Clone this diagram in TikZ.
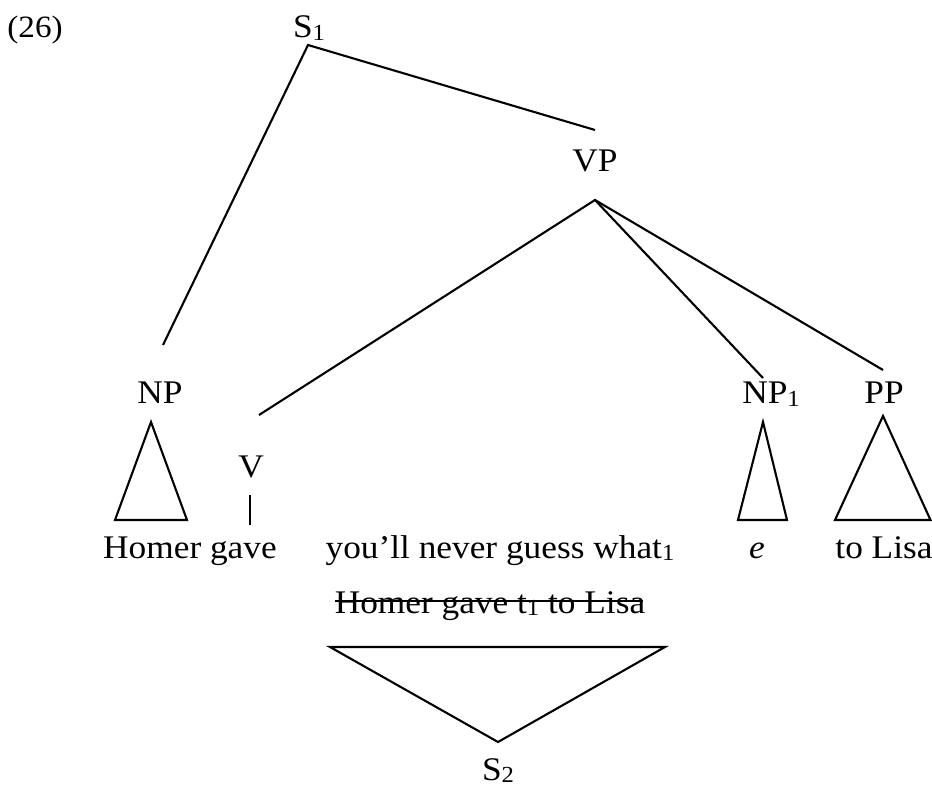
\documentclass[tikz,border=0pt]{standalone}
\usepackage{fontspec}
\setmainfont{Liberation Serif}[FakeStretch=1.07]
\newcommand{\lsub}[1]{\raisebox{-2.5pt}{\fontsize{23}{23}\selectfont #1}}
\begin{document}
\begin{tikzpicture}[x=1pt,y=-1pt,
  lbl/.style={inner sep=0pt, anchor=base, font=\fontsize{33}{38}\selectfont},
  ln/.style={line width=2.1pt, line join=miter}]
\useasboundingbox (0,0) rectangle (932,791);
% labels
\node[lbl, font=\fontsize{31}{36}\selectfont] (ex) at (35,38) {(26)};
\node[lbl] (s1)  at (309,38) {S\lsub{1}};
\node[lbl] (vp)  at (595,172) {VP};
\node[lbl] (np)  at (160,404) {NP};
\node[lbl] (np1) at (771,404) {NP\lsub{1}};
\node[lbl] (pp)  at (884,404) {PP};
\node[lbl] (v)   at (251,478) {V};
\node[lbl] (hg)  at (190,558) {Homer gave};
\node[lbl] (yn)  at (500,558) {you’ll never guess what\lsub{1}};
\node[lbl] (e)   at (757,558) {\textit{e}};
\node[lbl] (tl)  at (884,558) {to Lisa};
\node[lbl] (hs)  at (490,613) {Homer gave t\lsub{1} to Lisa};
\node[lbl] (s2)  at (498,780) {S\lsub{2}};
% attachment points
\coordinate (s1b) at (308,45);
\coordinate (npt) at (163,345);
\coordinate (vpt) at (595,130);
\coordinate (vpb) at (595,200);
\coordinate (vt)  at (259,415);
\coordinate (np1t) at (763,378);
\coordinate (ppt) at (883,370);
\coordinate (vbt) at (250,495);
\coordinate (vbb) at (250,525);
\coordinate (stl) at (335,601);
\coordinate (str) at (643,601);
% branches
\draw[ln] (npt) -- (s1b) -- (vpt);
\draw[ln] (vt) -- (vpb) -- (np1t);
\draw[ln] (vpb) -- (ppt);
\draw[ln] (vbt) -- (vbb);
% triangles
\draw[ln] (151,422) -- (187,520) -- (115,520) -- cycle;
\draw[ln] (763,422) -- (787,520) -- (738,520) -- cycle;
\draw[ln] (883,416) -- (930.5,520) -- (835,520) -- cycle;
\draw[ln] (330,647) -- (665,647) -- (498,742) -- cycle;
% strike-through
\draw[line width=1.8pt] (stl) -- (str);
\end{tikzpicture}
\end{document}
